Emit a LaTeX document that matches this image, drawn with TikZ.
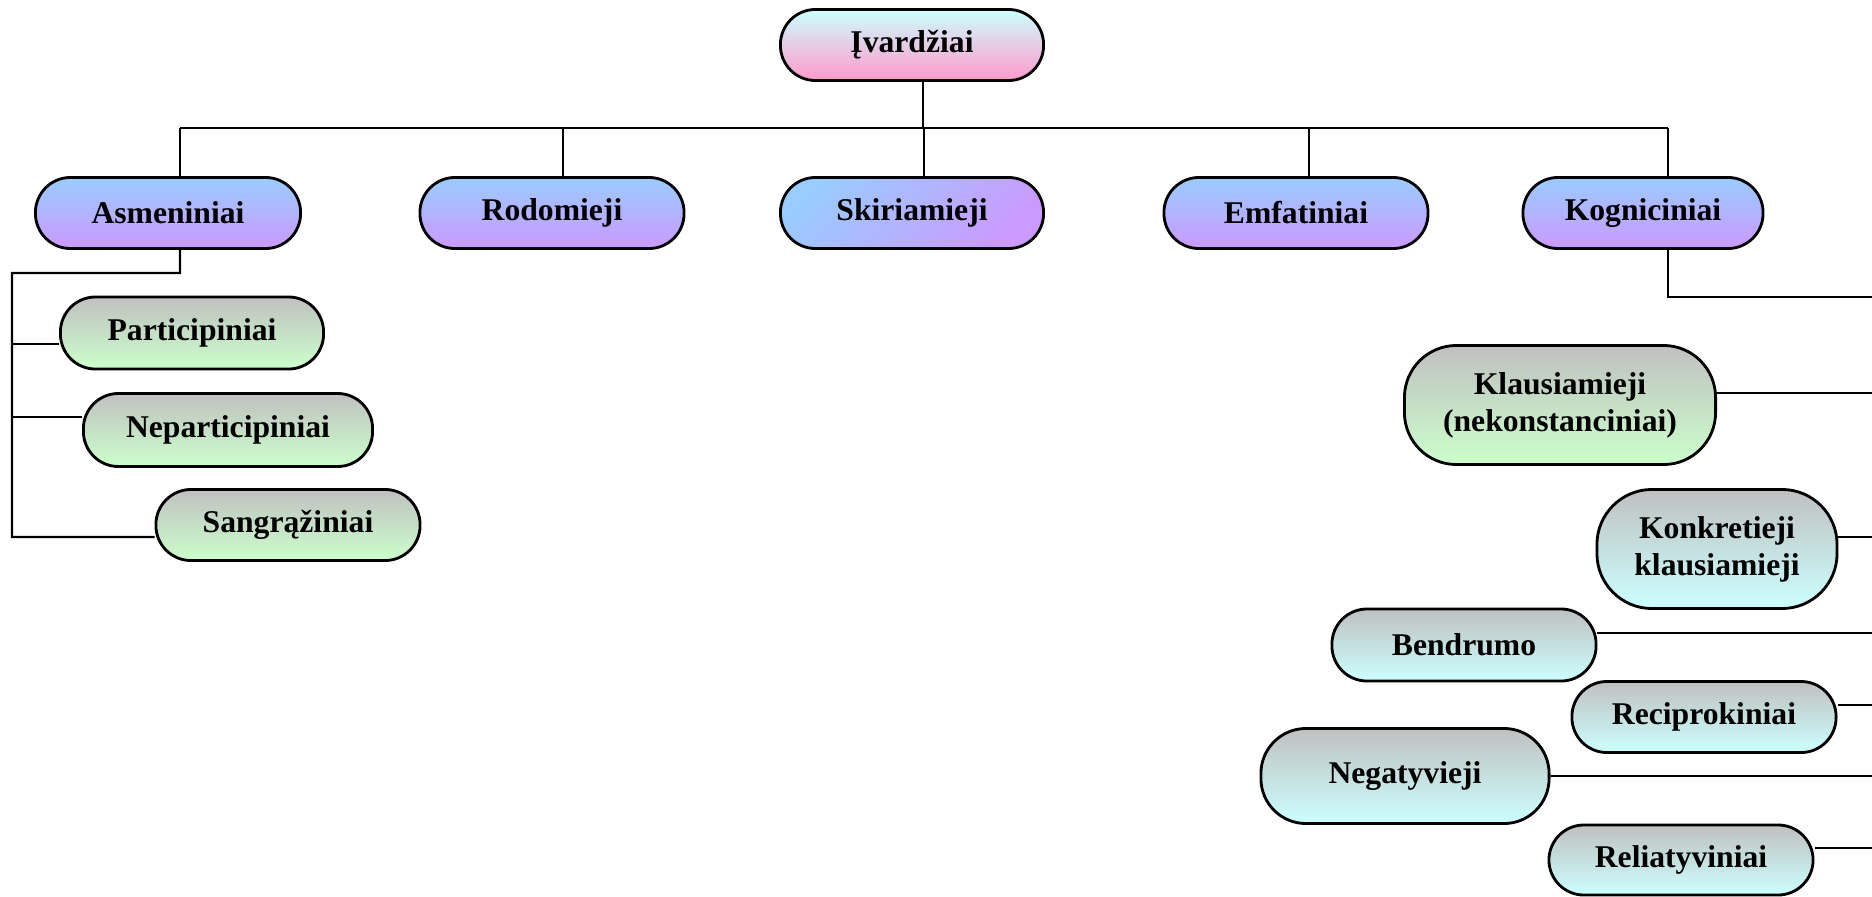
\documentclass[tikz,border=0pt]{standalone}
\usepackage{fontspec}
\setmainfont{Liberation Serif}

\definecolor{paleCyan}{HTML}{CCFFFF}
\definecolor{pinkish}{HTML}{FF99CC}
\definecolor{skyBlue}{HTML}{99CCFF}
\definecolor{lilac}{HTML}{CC99FF}
\definecolor{silver}{HTML}{C0C0C0}
\definecolor{paleGreen}{HTML}{CCFFCC}

\begin{document}
\begin{tikzpicture}[x=0.01cm,y=-0.01cm]

\tikzset{Pill/.style={draw,line width=0.8pt,rounded corners=0.35cm,minimum height=0.71cm,inner sep=0pt,align=center,font=\fontsize{9}{10.5}\selectfont\bfseries}};
\tikzset{PillRoot/.style={Pill,top color=paleCyan,bottom color=pinkish}};
\tikzset{PillKind/.style={Pill,top color=skyBlue,bottom color=lilac}};
\tikzset{PillGreen/.style={Pill,top color=silver,bottom color=paleGreen}};
\tikzset{PillCyan/.style={Pill,top color=silver,bottom color=paleCyan}};
\tikzset{Link/.style={line width=0.6pt}};

\useasboundingbox (0,0) rectangle (1872,897);

% root and the five kinds
\node[PillRoot,minimum width=2.63cm] (ivard) at (912,45) {Įvardžiai};

\node[PillKind,minimum width=2.65cm] (asmen) at (168,213) {Asmeniniai};
\node[PillKind,minimum width=2.64cm] (rodom) at (552,213) {Rodomieji};
\node[PillKind,minimum width=2.63cm,shading angle=45] (skir) at (912,213) {Skiriamieji};
\node[PillKind,minimum width=2.64cm] (emfat) at (1296,213) {Emfatiniai};
\node[PillKind,minimum width=2.40cm] (kogn) at (1643,213) {Kogniciniai};

\coordinate (bus) at (0,128);

\begin{scope}[Link]

\draw ([xshift=1.1mm]ivard.south) -- ([xshift=1.1mm]ivard.south |- bus);
\draw ([xshift=1.2mm]asmen.north |- bus) -- ([xshift=2.5mm]kogn.north |- bus);
\draw ([xshift=1.2mm]asmen.north) -- ([xshift=1.2mm]asmen.north |- bus);
\draw ([xshift=1.1mm]rodom.north) -- ([xshift=1.1mm]rodom.north |- bus);
\draw ([xshift=1.2mm]skir.north) -- ([xshift=1.2mm]skir.north |- bus);
\draw ([xshift=1.3mm]emfat.north) -- ([xshift=1.3mm]emfat.north |- bus);
\draw ([xshift=2.5mm]kogn.north) -- ([xshift=2.5mm]kogn.north |- bus);

\end{scope}

% asmeniniai
\node[PillGreen,minimum width=2.63cm,minimum height=0.72cm] (partic) at (192,333) {Participiniai};
\node[PillGreen,minimum width=2.89cm,minimum height=0.73cm] (nepartic) at (228,430) {Neparticipiniai};
\node[PillGreen,minimum width=2.64cm] (sangr) at (288,525) {Sangrąžiniai};

\coordinate (lspine) at (12,537);

\begin{scope}[Link]
\draw ([xshift=1.2mm]asmen.south) |- (12,273) -- (lspine) -- ([yshift=-1.2mm]sangr.west);
\draw ([yshift=-1.1mm]partic.west) -| (lspine);
\draw ([yshift=1.3mm]nepartic.west) -| (lspine);
\end{scope}

% kogniciniai
\node[PillGreen,minimum width=3.11cm,minimum height=1.19cm,rounded corners=0.52cm] (klaus) at (1560,405) {Klausiamieji\\(nekonstanciniai)};
\node[PillCyan,minimum width=2.40cm,minimum height=1.19cm,rounded corners=0.55cm] (konkr) at (1717,549) {Konkretieji\\klausiamieji};
\node[PillCyan,minimum width=2.64cm,minimum height=0.72cm] (bendr) at (1464,645) {Bendrumo};
\node[PillCyan,minimum width=2.64cm,minimum height=0.71cm] (recip) at (1704,717) {Reciprokiniai};
\node[PillCyan,minimum width=2.88cm,minimum height=0.95cm,rounded corners=0.45cm] (negat) at (1405,776) {Negatyvieji};
\node[PillCyan,minimum width=2.64cm,minimum height=0.70cm] (reliat) at (1681,860) {Reliatyviniai};

\coordinate (redge) at (1872,297);

\begin{scope}[Link]
\draw ([xshift=2.5mm]kogn.south) |- (redge);
\draw ([yshift=1.2mm]klaus.east) -- ([yshift=1.2mm]klaus.east -| redge);
\draw ([yshift=1.2mm]konkr.east) -- ([yshift=1.2mm]konkr.east -| redge);
\draw ([yshift=1.2mm]bendr.east) -- ([yshift=1.2mm]bendr.east -| redge);
\draw ([yshift=1.2mm]recip.east) -- ([yshift=1.2mm]recip.east -| redge);
\draw (negat.east) -- (negat.east -| redge);
\draw ([yshift=1.2mm]reliat.east) -- ([yshift=1.2mm]reliat.east -| redge);
\end{scope}

\end{tikzpicture}
\end{document}
